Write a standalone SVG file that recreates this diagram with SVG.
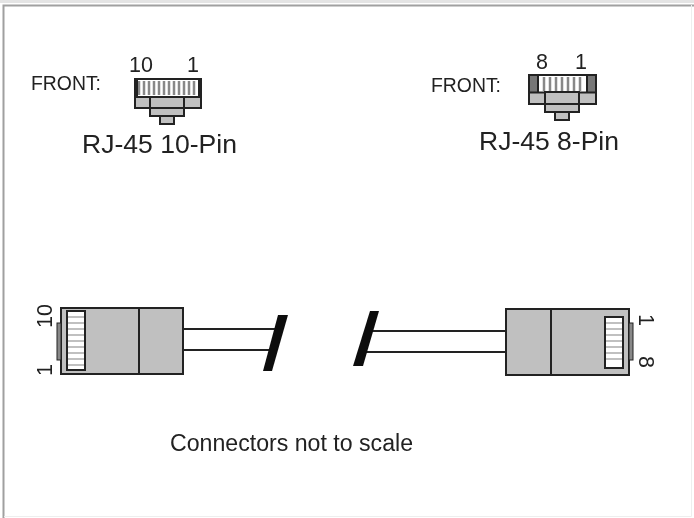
<svg xmlns="http://www.w3.org/2000/svg" width="694" height="518" viewBox="0 0 694 518">
<defs><filter id="soft" x="0" y="0" width="1" height="1" filterUnits="objectBoundingBox"><feGaussianBlur stdDeviation="0.45"/></filter></defs>
<style>
text{font-family:"Liberation Sans",Arial,sans-serif;fill:#222}
.f{font-size:20px}.t{font-size:21.500px}.h{font-size:25px}
.b{fill:#c0c0c0;stroke:#222;stroke-width:2}
.o{fill:none;stroke:#222;stroke-width:2}
.w{fill:#fff;stroke:#222;stroke-width:2}
.p{stroke:#888;stroke-width:2.500}
.q{stroke:#c0c0c0;stroke-width:2}
</style>
<rect width="694" height="518" fill="#fff"/>
<g filter="url(#soft)">
<rect width="694" height="518" fill="#fff"/>
<g id="frame">
<rect x="0" y="0" width="694" height="3" fill="#e4e4e4"/>
<path d="M3.500 518V5.500H694" fill="none" stroke="#a0a0a0" stroke-width="2"/>
<path d="M691.500 5V516.500H4" fill="none" stroke="#eee" stroke-width="1"/>
</g>
<g id="connectors">
<path class="o" d="M184 329H275M184 350H270M370 331H506M365 352H506"/>
<path d="M278 315H288L272 371H263Z" fill="#111"/>
<path d="M370 311H379L363 366H353Z" fill="#111"/>
</g>
<g id="plug-10-front">
<text class="f" x="31" y="90" textLength="70" lengthAdjust="spacingAndGlyphs">FRONT:</text>
<text class="t" x="129" y="72">10</text>
<text class="t" x="187" y="72">1</text>
<rect class="b" x="135" y="79" width="66" height="29"/>
<rect x="136" y="80" width="64" height="17" fill="#fff"/>
<path class="p" d="M139 81V95M144 81V95M149 81V95M154 81V95M159 81V95M164 81V95M169 81V95M174 81V95M179 81V95M184 81V95M189 81V95M194 81V95"/>
<path class="o" d="M136 97H200M137 80V97M199 80V97"/>
<rect class="b" x="150" y="97" width="34" height="19"/>
<path class="o" d="M150 108H184"/>
<rect class="b" x="160" y="116" width="14" height="8"/>
<text class="h" x="82" y="153" textLength="155" lengthAdjust="spacingAndGlyphs">RJ-45 10-Pin</text>
</g>
<g id="plug-8-front">
<text class="f" x="431" y="92" textLength="70" lengthAdjust="spacingAndGlyphs">FRONT:</text>
<text class="t" x="536" y="69">8</text>
<text class="t" x="575" y="69">1</text>
<rect class="b" x="529" y="75" width="67" height="29"/>
<rect x="530" y="76" width="9" height="16" fill="#777"/>
<rect x="587" y="76" width="8" height="16" fill="#777"/>
<rect x="539" y="76" width="48" height="16" fill="#fff"/>
<path class="p" d="M544 77V91M550 77V91M556 77V91M562 77V91M568 77V91M574 77V91M580 77V91"/>
<path class="o" d="M530 92.500H595M538 76V92M587 76V92"/>
<rect class="b" x="545" y="92" width="34" height="20"/>
<path class="o" d="M545 104H579"/>
<rect class="b" x="555" y="112" width="14" height="8"/>
<text class="h" x="479" y="150" textLength="140" lengthAdjust="spacingAndGlyphs">RJ-45 8-Pin</text>
</g>
<g id="plug-10-side">
<rect class="b" x="61" y="308" width="122" height="66"/>
<path class="o" d="M139 308V374"/>
<rect x="57" y="323" width="4" height="37" fill="#888" stroke="#222"/>
<rect class="w" x="67" y="311" width="18" height="59"/>
<path class="q" d="M68 317H84M68 323H84M68 329H84M68 335H84M68 341H84M68 347H84M68 353H84M68 359H84M68 365H84"/>
<text class="t" transform="translate(52 328) rotate(-90)">10</text>
<text class="t" transform="translate(52 376) rotate(-90)">1</text>
</g>
<g id="plug-8-side">
<rect class="b" x="506" y="309" width="123" height="66"/>
<path class="o" d="M551 309V375"/>
<rect x="629" y="323" width="4" height="37" fill="#888" stroke="#222"/>
<rect class="w" x="605" y="317" width="18" height="51"/>
<path class="q" d="M606 323H622M606 329H622M606 335H622M606 341H622M606 347H622M606 353H622M606 359H622"/>
<text class="t" transform="translate(639 314) rotate(90)">1</text>
<text class="t" transform="translate(639 356) rotate(90)">8</text>
</g>
<text id="note" x="170" y="451" style="font-size:23px" textLength="243" lengthAdjust="spacingAndGlyphs">Connectors not to scale</text>
</g>
</svg>
